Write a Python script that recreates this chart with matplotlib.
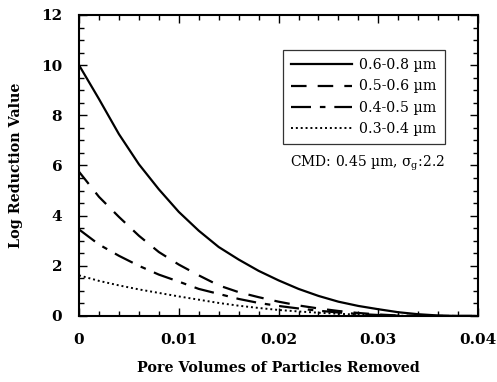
import matplotlib
matplotlib.use("Agg")
import matplotlib.pyplot as plt
from matplotlib.ticker import MultipleLocator, FixedLocator, FixedFormatter

plt.rcParams['font.family'] = ['DejaVu Serif']
plt.rcParams['mathtext.fontset'] = 'dejavuserif'

pore_volumes = [0.0, 0.002, 0.004, 0.006, 0.008, 0.010, 0.012, 0.014, 0.016, 0.018,
                0.020, 0.022, 0.024, 0.026, 0.028, 0.030, 0.032, 0.034, 0.036, 0.038, 0.040]
lrv_06_08 = [10.0, 8.65, 7.25, 6.05, 5.05, 4.15, 3.40, 2.75, 2.25, 1.80,
             1.42, 1.08, 0.80, 0.57, 0.40, 0.27, 0.15, 0.07, 0.02, 0.0, 0.0]
lrv_05_06 = [5.75, 4.75, 3.95, 3.20, 2.55, 2.05, 1.62, 1.22, 0.95, 0.75,
             0.57, 0.42, 0.30, 0.20, 0.12, 0.06, 0.02, 0.0, 0.0, 0.0, 0.0]
lrv_04_05 = [3.45, 2.85, 2.40, 2.00, 1.65, 1.37, 1.08, 0.88, 0.68, 0.52,
             0.40, 0.30, 0.21, 0.14, 0.08, 0.04, 0.01, 0.0, 0.0, 0.0, 0.0]
lrv_03_04 = [1.62, 1.40, 1.22, 1.06, 0.92, 0.78, 0.65, 0.52, 0.41, 0.32,
             0.24, 0.18, 0.13, 0.09, 0.05, 0.03, 0.01, 0.0, 0.0, 0.0, 0.0]
series_labels = ['0.6-0.8 µm', '0.5-0.6 µm', '0.4-0.5 µm', '0.3-0.4 µm']
x_ticks = [0, 0.01, 0.02, 0.03, 0.04]
x_tick_labels = ['0', '0.01', '0.02', '0.03', '0.04']
y_ticks = [0, 2, 4, 6, 8, 10, 12]

fig = plt.figure(figsize=(4.97, 3.82), dpi=100)
ax = fig.add_axes([0.159, 0.1728, 0.803, 0.788])

ax.plot(pore_volumes, lrv_06_08, color='black', lw=1.6, ls='-', label=series_labels[0])
ax.plot(pore_volumes, lrv_05_06, color='black', lw=1.6, ls=(0, (7, 5)), label=series_labels[1])
ax.plot(pore_volumes, lrv_04_05, color='black', lw=1.6, ls=(0, (9, 4, 2.5, 4)), label=series_labels[2])
ax.plot(pore_volumes, lrv_03_04, color='black', lw=1.4, ls=(0, (1, 1.5)), label=series_labels[3])

ax.set_xlim(0, 0.04)
ax.set_ylim(0, 12)
ax.xaxis.set_major_locator(FixedLocator(x_ticks))
ax.xaxis.set_major_formatter(FixedFormatter(x_tick_labels))
ax.xaxis.set_minor_locator(MultipleLocator(0.002))
ax.yaxis.set_major_locator(FixedLocator(y_ticks))
ax.yaxis.set_minor_locator(MultipleLocator(0.5))
ax.tick_params(which='both', direction='in', top=True, right=True, width=1.0)
ax.tick_params(which='major', length=6, labelsize=11)
ax.tick_params(axis='x', which='major', pad=12)
ax.tick_params(axis='y', which='major', pad=12)
ax.tick_params(which='minor', length=3.5)
for lab in ax.get_xticklabels() + ax.get_yticklabels():
    lab.set_fontweight('bold')
for sp in ax.spines.values():
    sp.set_linewidth(1.5)

ax.set_xlabel('Pore Volumes of Particles Removed', fontsize=10.3, fontweight='bold', labelpad=10)
ax.set_ylabel('Log Reduction Value', fontsize=10.3, fontweight='bold', labelpad=13)

leg = ax.legend(loc='upper left', bbox_to_anchor=(0.511, 0.884), borderaxespad=0,
                frameon=True, fancybox=False,
                edgecolor='black', fontsize=10.2, handlelength=4.3, handletextpad=0.5,
                labelspacing=0.5, borderpad=0.6)
leg.get_frame().set_linewidth(0.9)

ax.text(0.529, 0.508, r'CMD: 0.45 µm, $\mathregular{\sigma_g}$:2.2', transform=ax.transAxes,
        fontsize=10, ha='left', va='center')

fig.savefig('out.png', dpi=100)
